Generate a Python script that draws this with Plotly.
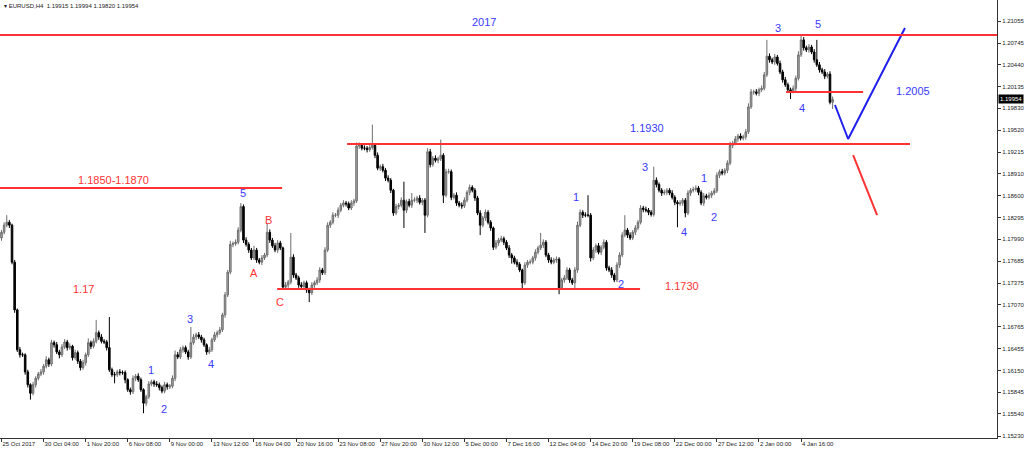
import plotly.graph_objects as go

# ---------------- data (EURUSD H4) ----------------
first_open = 1.1801
closes = [
    1.1809, 1.1819, 1.1823, 1.1819, 1.1767, 1.1700, 1.1644, 1.1637, 1.1637, 1.1613,
    1.1595, 1.1583, 1.1595, 1.1604, 1.1610, 1.1613, 1.1621, 1.1630, 1.1624, 1.1654,
    1.1651, 1.1641, 1.1637, 1.1648, 1.1655, 1.1647, 1.1649, 1.1633, 1.1640, 1.1628,
    1.1619, 1.1626, 1.1637, 1.1654, 1.1649, 1.1656, 1.1668, 1.1662, 1.1656, 1.1655,
    1.1647, 1.1616, 1.1609, 1.1609, 1.1613, 1.1612, 1.1612, 1.1602, 1.1588, 1.1585,
    1.1604, 1.1607, 1.1602, 1.1588, 1.1569, 1.1578, 1.1596, 1.1599, 1.1596, 1.1595,
    1.1591, 1.1586, 1.1595, 1.1592, 1.1593, 1.1604, 1.1637, 1.1634, 1.1644, 1.1647,
    1.1641, 1.1634, 1.1654, 1.1662, 1.1665, 1.1662, 1.1658, 1.1651, 1.1641, 1.1644,
    1.1658, 1.1665, 1.1668, 1.1672, 1.1693, 1.1721, 1.1753, 1.1792, 1.1793, 1.1795,
    1.1812, 1.1845, 1.1798, 1.1792, 1.1784, 1.1773, 1.1784, 1.1770, 1.1767, 1.1773,
    1.1777, 1.1809, 1.1798, 1.1790, 1.1784, 1.1794, 1.1787, 1.1732, 1.1735, 1.1739,
    1.1774, 1.1749, 1.1745, 1.1735, 1.1733, 1.1738, 1.1728, 1.1724, 1.1735, 1.1738,
    1.1742, 1.1756, 1.1752, 1.1784, 1.1819, 1.1823, 1.1833, 1.1833, 1.1840, 1.1847,
    1.1850, 1.1849, 1.1843, 1.1850, 1.1853, 1.1930, 1.1931, 1.1927, 1.1927, 1.1925,
    1.1928, 1.1931, 1.1917, 1.1899, 1.1901, 1.1896, 1.1885, 1.1882, 1.1868, 1.1836,
    1.1845, 1.1847, 1.1854, 1.1840, 1.1852, 1.1847, 1.1854, 1.1854, 1.1857, 1.1851,
    1.1854, 1.1833, 1.1922, 1.1904, 1.1913, 1.1910, 1.1912, 1.1917, 1.1861, 1.1894,
    1.1894, 1.1858, 1.1861, 1.1850, 1.1847, 1.1846, 1.1854, 1.1865, 1.1872, 1.1868,
    1.1857, 1.1836, 1.1819, 1.1829, 1.1837, 1.1823, 1.1815, 1.1788, 1.1794, 1.1798,
    1.1800, 1.1795, 1.1787, 1.1777, 1.1773, 1.1767, 1.1764, 1.1756, 1.1738, 1.1763,
    1.1767, 1.1767, 1.1773, 1.1781, 1.1787, 1.1791, 1.1795, 1.1777, 1.1770, 1.1767,
    1.1770, 1.1771, 1.1731, 1.1742, 1.1745, 1.1756, 1.1742, 1.1738, 1.1756, 1.1819,
    1.1837, 1.1833, 1.1833, 1.1833, 1.1773, 1.1784, 1.1790, 1.1781, 1.1788, 1.1795,
    1.1759, 1.1756, 1.1749, 1.1742, 1.1763, 1.1777, 1.1805, 1.1812, 1.1805, 1.1801,
    1.1809, 1.1815, 1.1823, 1.1843, 1.1841, 1.1840, 1.1837, 1.1834, 1.1882, 1.1876,
    1.1868, 1.1864, 1.1865, 1.1868, 1.1864, 1.1858, 1.1851, 1.1849, 1.1850, 1.1854,
    1.1836, 1.1864, 1.1868, 1.1869, 1.1871, 1.1865, 1.1850, 1.1860, 1.1858, 1.1861,
    1.1864, 1.1867, 1.1889, 1.1894, 1.1892, 1.1896, 1.1906, 1.1931, 1.1934, 1.1940,
    1.1944, 1.1941, 1.1943, 1.1950, 1.1985, 1.2006, 1.2006, 1.2004, 1.2009, 1.2011,
    1.2030, 1.2056, 1.2051, 1.2048, 1.2055, 1.2046, 1.2034, 1.2023, 1.2016, 1.2009,
    1.2007, 1.2011, 1.2025, 1.2058, 1.2079, 1.2068, 1.2065, 1.2069, 1.2062, 1.2051,
    1.2044, 1.2037, 1.2034, 1.2028, 1.2031, 1.19915, 1.19954,
]
upper_wick_pips = [
    3, 4, 10, 3, 2, 3, 2, 4, 3, 2,
    3, 2, 4, 3, 3, 4, 3, 5, 3, 4,
    3, 4, 3, 4, 4, 3, 4, 2, 4, 3,
    3, 4, 3, 6, 3, 4, 18, 3, 4, 3,
    3, 43, 3, 4, 3, 4, 3, 3, 2, 3,
    4, 3, 4, 3, 2, 3, 4, 3, 3, 4,
    3, 3, 4, 3, 3, 4, 6, 4, 4, 3,
    3, 3, 22, 4, 3, 4, 3, 3, 2, 4,
    3, 4, 3, 4, 3, 4, 3, 5, 3, 4,
    4, 5, 3, 4, 3, 3, 6, 3, 3, 4,
    3, 13, 4, 3, 4, 4, 3, 2, 4, 3,
    34, 4, 3, 3, 4, 3, 3, 3, 4, 3,
    4, 4, 3, 4, 4, 3, 4, 3, 4, 3,
    4, 3, 3, 4, 3, 5, 4, 3, 4, 3,
    4, 29, 3, 4, 3, 4, 3, 4, 3, 2,
    4, 3, 4, 26, 3, 4, 10, 4, 3, 4,
    3, 3, 5, 4, 3, 4, 3, 22, 3, 4,
    4, 3, 3, 4, 3, 4, 4, 3, 4, 3,
    3, 3, 4, 3, 4, 3, 3, 2, 4, 3,
    4, 3, 3, 4, 3, 3, 4, 3, 2, 4,
    3, 4, 3, 4, 3, 17, 4, 3, 3, 4,
    3, 4, 3, 3, 4, 4, 3, 3, 4, 5,
    4, 3, 4, 28, 3, 4, 3, 4, 3, 4,
    3, 3, 4, 3, 4, 4, 4, 21, 3, 4,
    3, 4, 3, 4, 3, 4, 3, 3, 19, 4,
    3, 3, 4, 3, 3, 4, 3, 3, 4, 3,
    3, 4, 3, 4, 4, 3, 3, 4, 3, 4,
    3, 4, 4, 3, 4, 3, 4, 5, 3, 4,
    3, 4, 3, 4, 5, 4, 3, 4, 3, 4,
    4, 23, 4, 3, 4, 3, 4, 3, 4, 3,
    3, 4, 4, 5, 7, 4, 3, 4, 3, 4,
    28, 4, 3, 4, 3, 4, 4,
]
lower_wick_pips = [
    4, 3, 3, 4, 3, 4, 3, 4, 3, 4,
    4, 9, 3, 4, 3, 3, 4, 3, 4, 3,
    4, 3, 5, 3, 3, 4, 3, 4, 3, 4,
    4, 3, 4, 3, 4, 3, 3, 4, 3, 3,
    4, 3, 3, 12, 3, 4, 3, 5, 3, 4,
    3, 4, 3, 3, 14, 4, 3, 3, 4, 3,
    4, 3, 3, 4, 3, 3, 4, 3, 3, 4,
    3, 4, 3, 3, 4, 3, 4, 3, 4, 3,
    3, 3, 4, 3, 3, 4, 3, 3, 4, 3,
    3, 3, 4, 3, 4, 3, 3, 4, 3, 4,
    3, 3, 4, 3, 3, 4, 3, 4, 3, 4,
    3, 4, 3, 4, 3, 3, 4, 13, 3, 4,
    3, 4, 3, 3, 3, 4, 3, 3, 4, 3,
    3, 4, 3, 3, 4, 3, 4, 3, 3, 4,
    3, 3, 4, 3, 4, 3, 4, 3, 4, 4,
    3, 4, 3, 25, 4, 3, 4, 3, 4, 3,
    4, 25, 3, 4, 3, 3, 4, 3, 11, 3,
    3, 4, 3, 4, 3, 4, 3, 3, 4, 3,
    4, 3, 14, 3, 4, 3, 4, 4, 3, 4,
    3, 4, 3, 4, 8, 3, 4, 3, 10, 3,
    4, 3, 3, 4, 3, 3, 4, 3, 4, 3,
    3, 4, 9, 3, 4, 3, 4, 3, 10, 4,
    3, 4, 3, 3, 5, 3, 4, 3, 4, 3,
    4, 3, 4, 3, 3, 4, 3, 3, 4, 3,
    3, 4, 3, 3, 4, 3, 4, 3, 3, 4,
    3, 4, 3, 4, 3, 3, 4, 33, 3, 4,
    6, 3, 4, 3, 3, 4, 3, 4, 3, 3,
    4, 3, 3, 4, 3, 3, 4, 3, 4, 3,
    4, 3, 3, 4, 3, 3, 4, 3, 4, 3,
    3, 3, 4, 3, 4, 3, 3, 4, 3, 4,
    11, 3, 4, 3, 3, 4, 3, 4, 3, 4,
    3, 4, 3, 4, 3, 3, 9.5,
]

x_tick_labels = ["25 Oct 2017", "30 Oct 04:00", "1 Nov 20:00", "6 Nov 08:00", "9 Nov 00:00",
                 "13 Nov 12:00", "16 Nov 04:00", "20 Nov 16:00", "23 Nov 08:00", "27 Nov 20:00",
                 "30 Nov 12:00", "5 Dec 00:00", "7 Dec 16:00", "12 Dec 04:00", "14 Dec 20:00",
                 "19 Dec 08:00", "22 Dec 00:00", "27 Dec 12:00", "2 Jan 00:00", "4 Jan 16:00"]
bars_per_label = 16
y_tick_values = [1.21055, 1.20745, 1.20440, 1.20135, 1.19830, 1.19520, 1.19215, 1.18910,
                 1.18600, 1.18295, 1.17990, 1.17685, 1.17375, 1.17070, 1.16765, 1.16455,
                 1.16150, 1.15845, 1.15540, 1.15230]

# support / resistance levels drawn on the chart: (price, from bar, to bar)
level_prices = [1.18711, 1.19329, 1.17293, 1.20058]
level_from = [-0.6, 131.4, 104.8, 298.3]
level_to = [106.7, 345.4, 242.8, 327.6]
top_level = 1.20858  # "2017" line across the whole chart

# projected paths
blue_path_bar = [316.9, 321.9, 343.5]
blue_path_price = [1.19876, 1.19399, 1.20957]
red_path_bar = [323.8, 332.9]
red_path_price = [1.19174, 1.18332]

# text labels
BLUE = "#3a3aff"
RED = "#ff3333"
label_text = ["2017", "1.1850-1.1870", "1.17", "1.1930", "1.1730", "1.2005",
              "5", "3", "4", "1", "2", "A", "B", "C",
              "1", "2", "3", "4", "1", "2", "3", "5", "4"]
label_bar = [183.5, 42.4, 31.0, 245.4, 258.7, 346.6,
             91.8, 71.7, 79.7, 56.8, 61.8, 96.0, 101.7, 105.9,
             218.4, 235.6, 244.7, 259.5, 267.1, 270.9, 295.2, 310.4, 304.4]
label_price = [1.21041, 1.18824, 1.17294, 1.19553, 1.17336, 1.20073,
               1.18641, 1.16873, 1.16241, 1.16157, 1.15609, 1.17518, 1.18262, 1.17111,
               1.18585, 1.17364, 1.19006, 1.18094, 1.18852, 1.18304, 1.20957, 1.21013, 1.19834]
label_color = [BLUE, RED, RED, BLUE, RED, BLUE,
               BLUE, BLUE, BLUE, BLUE, BLUE, RED, RED, RED,
               BLUE, BLUE, BLUE, BLUE, BLUE, BLUE, BLUE, BLUE, BLUE]

# ---------------- build OHLC ----------------
n = len(closes)
opens = [first_open] + closes[:-1]
highs = [max(o, c) + u / 10000 for o, c, u in zip(opens, closes, upper_wick_pips)]
lows = [min(o, c) - l / 10000 for o, c, l in zip(opens, closes, lower_wick_pips)]
bars = list(range(n))

FONT = "Liberation Sans, Arial, sans-serif"

fig = go.Figure()
fig.add_trace(go.Candlestick(
    x=bars, open=opens, high=highs, low=lows, close=closes,
    increasing=dict(line=dict(color="#6e6e6e", width=1), fillcolor="#a8a8a8"),
    decreasing=dict(line=dict(color="#000000", width=1), fillcolor="#000000"),
    whiskerwidth=0, showlegend=False, hoverinfo="skip",
))

# level lines
shapes = [dict(type="line", xref="paper", x0=0, x1=1, yref="y", y0=top_level, y1=top_level,
               line=dict(color=RED, width=2))]
for p, a, b in zip(level_prices, level_from, level_to):
    shapes.append(dict(type="line", xref="x", yref="y", x0=a, x1=b, y0=p, y1=p,
                       line=dict(color=RED, width=2)))

fig.add_trace(go.Scatter(x=blue_path_bar, y=blue_path_price, mode="lines",
                         line=dict(color="#2020ee", width=2), showlegend=False, hoverinfo="skip"))
fig.add_trace(go.Scatter(x=red_path_bar, y=red_path_price, mode="lines",
                         line=dict(color=RED, width=2), showlegend=False, hoverinfo="skip"))

annotations = []
for t, xb, yp, col in zip(label_text, label_bar, label_price, label_color):
    annotations.append(dict(x=xb, y=yp, xref="x", yref="y", text=t, showarrow=False,
                            font=dict(family=FONT, size=11, color=col)))

header = "\u25be EURUSD,H4  {:.5f} {:.5f} {:.5f} {:.5f}".format(opens[-1], highs[-1], lows[-1], closes[-1])
annotations.append(dict(x=0, y=1, xref="paper", yref="paper", xanchor="left", yanchor="top",
                        xshift=2, yshift=-1, text=header, showarrow=False,
                        font=dict(family=FONT, size=6, color="#222222")))
annotations.append(dict(x=1, y=closes[-1], xref="paper", yref="y", xanchor="left", yanchor="middle",
                        xshift=1, text="{:.5f}".format(closes[-1]), showarrow=False,
                        bgcolor="#000000", borderpad=1,
                        font=dict(family=FONT, size=6, color="#ffffff")))

fig.update_layout(
    template="none",
    width=1024, height=452,
    margin=dict(l=0, r=27, t=0, b=14, pad=0),
    paper_bgcolor="white", plot_bgcolor="white",
    boxgap=0.15,
    shapes=shapes, annotations=annotations,
    xaxis=dict(
        range=[-0.57, 378.5], rangeslider=dict(visible=False), automargin=False,
        tickvals=[i * bars_per_label for i in range(len(x_tick_labels))],
        ticktext=x_tick_labels, tickangle=0, ticks="outside", ticklen=3, tickcolor="#333333",
        ticklabelposition="outside right",
        showgrid=False, zeroline=False, showline=True, linecolor="#333333", linewidth=1,
        mirror=True,
        tickfont=dict(family=FONT, size=6, color="#222222"),
    ),
    yaxis=dict(
        range=[1.15202, 1.21350], side="right", automargin=False,
        tickvals=y_tick_values, ticktext=["{:.5f}".format(v) for v in y_tick_values],
        ticks="outside", ticklen=3, tickcolor="#333333",
        showgrid=False, zeroline=False, showline=True, linecolor="#333333", linewidth=1,
        tickfont=dict(family=FONT, size=6, color="#222222"),
    ),
)

fig.write_html("out.html", config={"displayModeBar": False},
               post_script="document.body.style.margin='0';document.body.style.overflow='hidden';")
